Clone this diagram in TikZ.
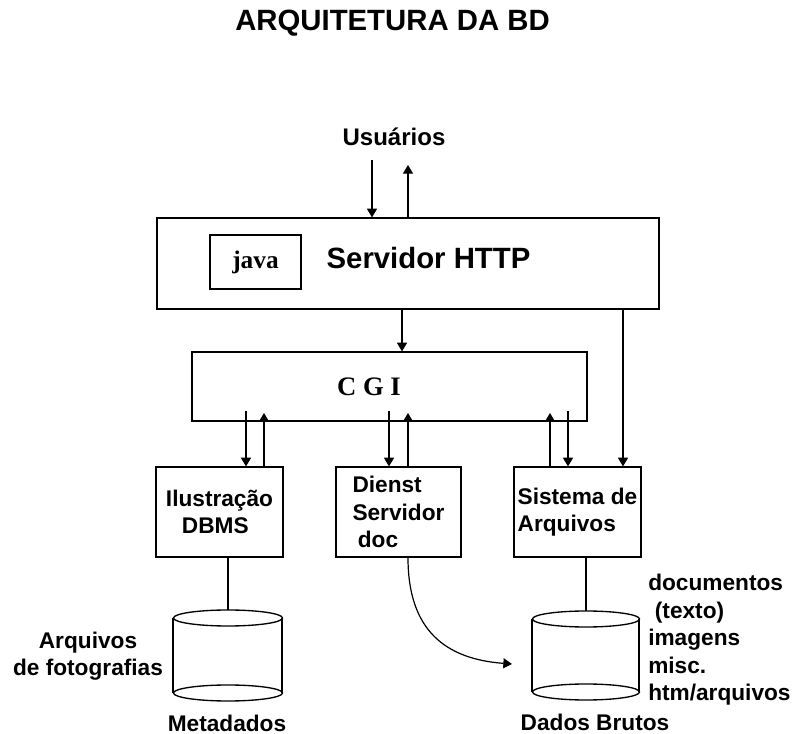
\documentclass[tikz,border=0pt]{standalone}
\usepackage{fontspec}
\setmainfont{Liberation Sans}
\newfontfamily\serifbd{Liberation Serif}
\usepackage{tikz}
\usetikzlibrary{arrows.meta}

\begin{document}
\begin{tikzpicture}[x=0.75pt,y=0.75pt,yscale=-1,xscale=1,
  every node/.style={inner sep=0.75pt},
  box/.style={draw, line width=0.9pt},
  lbl/.style={font=\fontsize{17}{20.6}\selectfont\bfseries, align=left},
  arr/.style={-{Triangle[width=7.5pt,length=6.5pt]}, line width=0.9pt},
  ln/.style={line width=1pt}]
\useasboundingbox (0,0) rectangle (794,734);

% Text Node
\node (title) at (392.5,23) {\fontsize{22}{26}\selectfont\bfseries ARQUITETURA DA BD};
% Text Node
\node [font=\fontsize{18}{22}\selectfont\bfseries] (users) at (394,137) {Usuários};

%Boxes
\node [box, minimum width=376.5pt, minimum height=68.25pt] (http) at (408,263.5) {};
\node [box, minimum width=68.25pt, minimum height=40.5pt, font=\serifbd\fontsize{19}{23}\selectfont\bfseries] (java) at (255.5,262) {java};
\node [font=\fontsize{22}{26}\selectfont\bfseries] (httptxt) at (428.5,258) {Servidor HTTP};
\node [box, minimum width=296.25pt, minimum height=51.75pt] (cgi) at (389.5,386.5) {};
\node [font=\serifbd\fontsize{20}{24}\selectfont\bfseries] (cgitxt) at (369,387) {C G I};
\node [box, lbl, minimum width=95.25pt, minimum height=67.5pt] (ilus) at (219.5,512) {Ilustração\\\hspace*{12pt}DBMS};
\node [box, lbl, minimum width=93.75pt, minimum height=67.5pt] (dienst) at (398.5,512) {Dienst\\Servidor\\\hspace*{4pt}doc};
\node [box, lbl, minimum width=95.25pt, minimum height=67.5pt] (sist) at (577.5,512) {Sistema de\\Arquivos};

%Cylinders
\draw [ln] (228,618) ellipse (54.5 and 8);
\draw [ln] (173,618) -- (173,693);
\draw [ln] (282,618) -- (282,693);
\draw [ln] (228,693) ellipse (54.5 and 8);
\coordinate (metatop) at (228,610);
\draw [ln] (586,619) ellipse (53.5 and 8);
\draw [ln] (532,619) -- (532,692);
\draw [ln] (639,619) -- (639,692);
\draw [ln] (586,692) ellipse (53.5 and 8);
\coordinate (brutotop) at (586,611);

% Text Node
\node [lbl, align=center] (fotos) at (88,656) {Arquivos\\de fotografias};
% Text Node
\node [lbl] (meta) at (227,723) {Metadados};
% Text Node
\node [lbl] (bruto) at (595,722) {Dados Brutos};
% Text Node
\node [lbl, anchor=west] (tipos) at (647,640) {documentos\\\hspace*{5pt}(texto)\\imagens\\misc.\\htm/arquivos};

%Connectors
\coordinate (usrin) at (372,160);
\coordinate (usrout) at (408,165);
\draw [arr] (usrin) -- (http.north -| usrin);
\draw [arr] (http.north -| usrout) -- (usrout);

\coordinate (cgiin) at (402,0);
\draw [arr] (http.south -| cgiin) -- (cgi.north -| cgiin);
\coordinate (sistin) at (623,0);
\draw [arr] (http.south -| sistin) -- (sist.north -| sistin);

\coordinate (ilusdn) at (246,411);
\coordinate (ilusup) at (264,413);
\draw [arr] (ilusdn) -- (ilus.north -| ilusdn);
\draw [arr] (ilus.north -| ilusup) -- (ilusup);
\coordinate (dienstdn) at (389,411);
\coordinate (dienstup) at (408,413);
\draw [arr] (dienstdn) -- (dienst.north -| dienstdn);
\draw [arr] (dienst.north -| dienstup) -- (dienstup);
\coordinate (sistup) at (550,413);
\coordinate (sistdn) at (568,411);
\draw [arr] (sist.north -| sistup) -- (sistup);
\draw [arr] (sistdn) -- (sist.north -| sistdn);

\draw [ln] (ilus.south -| metatop) -- (metatop);
\draw [ln] (sist.south -| brutotop) -- (brutotop);

\coordinate (docout) at (408,0);
\coordinate (docin) at (512,664);
\draw [arr] (dienst.south -| docout) .. controls (408,630) and (445,659) .. (docin);

\end{tikzpicture}
\end{document}
